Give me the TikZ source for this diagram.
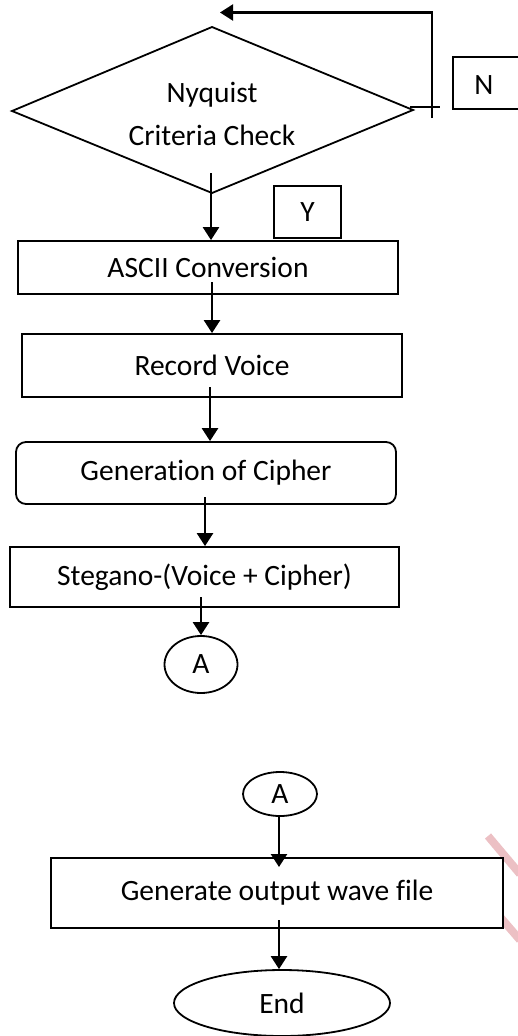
\documentclass[tikz,border=0pt]{standalone}
\usepackage{fontspec}
\setmainfont{Carlito}[Ligatures=NoCommon]
\usetikzlibrary{arrows.meta,shapes.geometric,calc}
\definecolor{wmark}{RGB}{236,192,196}
\begin{document}
\begin{tikzpicture}[x=1pt,y=-1pt,
  font=\fontsize{29.5}{35}\selectfont,
  line/.style={line width=1.8pt},
  arr/.style={line width=2.5pt,-{Triangle[width=16pt,length=13pt]}},
  box/.style={draw,line width=1.8pt,fill=white,inner sep=0pt},
  lbl/.style={inner sep=0pt},
  oval/.style={draw,ellipse,line width=1.8pt,fill=white,inner sep=0pt},
]
\useasboundingbox (0,0) rectangle (517,1036);

% watermark fragments
\draw[wmark,line width=8pt] (488,836) -- (520,874);
\draw[wmark,line width=8pt] (495,911) -- (520,940);

% decision diamond
\coordinate (dtop) at (212,27);
\coordinate (dright) at (413,110);
\coordinate (dbot) at (212,193);
\coordinate (dleft) at (12,111);
\draw[line] (dtop) -- (dright) -- (dbot) -- (dleft) -- cycle;
\node[lbl,anchor=base] (dec1) at (212,102) {Nyquist};
\node[lbl,anchor=base] (dec2) at (212,145) {Criteria Check};

% feedback loop
\coordinate (fb) at (432,118);
\coordinate (fbend) at (220,12.5);
\draw[arr,line width=2.2pt] (fb) |- (fbend);
\coordinate (t1) at (410,107);
\coordinate (t2) at (440,107);
\draw[line] (t1) -- (t2);

% N and Y labels
\node[box,minimum width=72pt,minimum height=52pt] (nbox) at (489,83) {};
\node[lbl] (nlbl) at (484,85) {N};
\node[box,minimum width=67pt,minimum height=52pt] (ybox) at (307.5,212) {Y};

% process boxes
\node[box,minimum width=380pt,minimum height=53pt] (ascii) at (208,267.5) {ASCII Conversion};
\node[box,minimum width=380pt,minimum height=63pt] (record) at (212,365.5) {Record Voice};
\node[box,rounded corners=10pt,minimum width=380pt,minimum height=62pt] (cipher) at (206,473) {Generation of Cipher};
\node[box,minimum width=389pt,minimum height=60pt] (steg) at (204.5,577) {Stegano-(Voice + Cipher)};
\node[oval,minimum width=73pt,minimum height=57pt] (a1) at (201,664.5) {A};

\node[oval,minimum width=74pt,minimum height=44pt] (a2) at (280,794) {A};
\node[box,minimum width=452pt,minimum height=70pt] (gen) at (277,893) {Generate output wave file};
\node[oval,minimum width=216pt,minimum height=66pt] (end) at (282,1003) {End};

% connectors
\coordinate (s1) at (211,173);
\draw[arr] (s1) -- (s1 |- ascii.north);
\coordinate (s2) at (212,282);
\draw[arr] (s2) -- (s2 |- record.north);
\coordinate (s3) at (210,387);
\draw[arr] (s3) -- (s3 |- cipher.north);
\coordinate (s4) at (205,497);
\draw[arr] (s4) -- (s4 |- steg.north);
\coordinate (s5) at (201,597);
\draw[arr] (s5) -- (a1.north);
\coordinate (s6) at (279,867);
\draw[arr] (a2.south -| s6) -- (s6);
\coordinate (s7) at (279,920);
\draw[arr] (s7) -- (s7 |- end.north);
\end{tikzpicture}
\end{document}
